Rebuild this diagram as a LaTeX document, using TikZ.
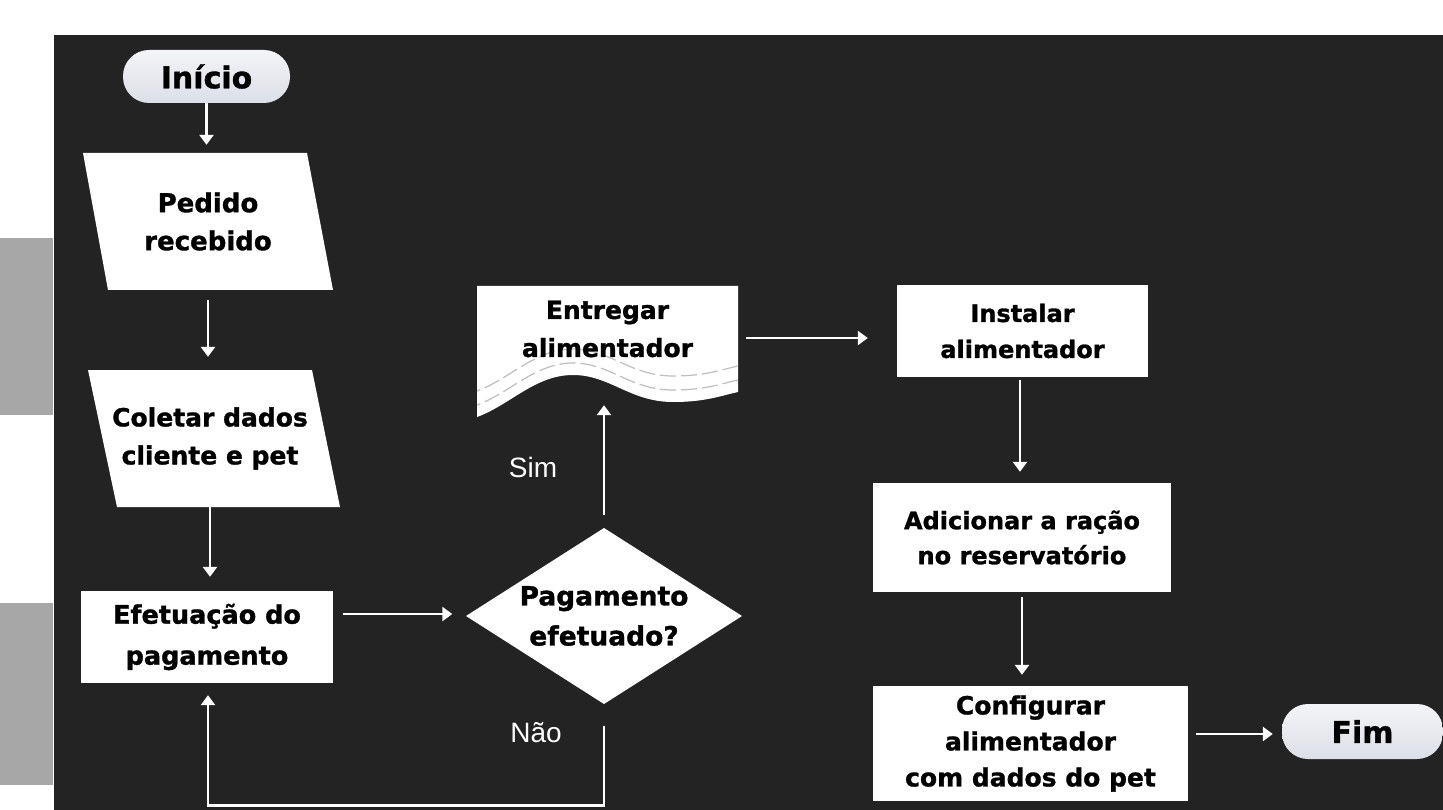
\documentclass[tikz,border=0pt]{standalone}
\usepackage{fontspec}
\setmainfont{DejaVu Sans}
\newfontfamily\heavyfont{DejaVu Sans Bold}[FakeBold=1.2]
\newfontfamily\lblfont{Liberation Sans}
\usetikzlibrary{arrows.meta,calc}
\definecolor{panel}{HTML}{232323}
\definecolor{stripgray}{HTML}{A7A7A7}
\definecolor{pilltop}{HTML}{F3F4F7}
\definecolor{pillbot}{HTML}{DCDFE6}
\definecolor{dashgray}{HTML}{BEBEBE}
\tikzset{
  txt/.style={inner sep=0pt, align=center, text=black, font=\heavyfont\fontsize{25}{38}\selectfont},
  boxnode/.style={txt, fill=white, draw=none},
  pill/.style={txt, rounded corners=26pt, top color=pilltop, bottom color=pillbot, draw=none, font=\heavyfont\fontsize{30}{36}\selectfont},
  arr/.style={draw=white, line width=2.8pt, -{Triangle[width=14pt,length=10pt]}},
  lbl/.style={inner sep=0pt, text=white, font=\lblfont\fontsize{28}{34}\selectfont}
}
\begin{document}
\begin{tikzpicture}[x=1pt,y=-1pt]
\fill[white] (0,0) rectangle (1443,810);
\useasboundingbox (0,0) rectangle (1443,810);
\fill[stripgray] (0,238) rectangle (53,415);
\fill[stripgray] (0,603) rectangle (53,785);
\fill[panel] (54,35) rectangle (1443,810);

% shapes drawn directly
\fill[white] (83,153) -- (307,153) -- (333,290) -- (108,290) -- cycle;
\fill[white] (88,370) -- (312,370) -- (340,507) -- (117,507) -- cycle;
\fill[white] (604,528) -- (742,616) -- (604,704) -- (466,616) -- cycle;
\fill[white] (477,286) -- (738,286) -- (738,392)
   .. controls (720,396) and (705,402) .. (673,402)
   .. controls (630,402) and (610,375) .. (573,375)
   .. controls (535,375) and (510,405) .. (477,417) -- cycle;
\begin{scope}
  \clip (477,286) rectangle (738,417);
  \foreach \dy in {-12,-26}{
    \draw[dashgray, line width=1.2pt, dash pattern=on 16pt off 5pt, yshift=\dy*-1pt]
      (738,392) .. controls (720,396) and (705,402) .. (673,402)
      .. controls (630,402) and (610,375) .. (573,375)
      .. controls (535,375) and (510,405) .. (477,417);
  }
\end{scope}

% nodes
\node[pill, minimum width=167pt, minimum height=53pt] (inicio) at (206.5,76.5) {Início};
\node[txt, font=\heavyfont\fontsize{26}{38}\selectfont, minimum width=225pt, minimum height=137pt] (pedido) at (208,221.5) {Pedido\\recebido};
\node[txt, minimum width=224pt, minimum height=137pt] (coletar) at (210,438.5) {Coletar dados\\cliente e pet};
\node[boxnode, minimum width=252pt, minimum height=92pt, font=\heavyfont\fontsize{25.5}{41}\selectfont] (efet) at (207,637) {Efetuação do\\pagamento};
\node[txt, minimum width=277pt, minimum height=176pt, font=\heavyfont\fontsize{26.5}{40}\selectfont] (pag) at (604,616) {Pagamento\\efetuado?};
\node[txt, minimum width=261pt, minimum height=86pt] (entregar) at (607.5,329) {Entregar\\alimentador};
\node[boxnode, minimum width=251pt, minimum height=92pt, font=\heavyfont\fontsize{24}{36}\selectfont] (instalar) at (1022.5,331) {Instalar\\alimentador};
\node[boxnode, minimum width=298pt, minimum height=109pt, font=\heavyfont\fontsize{24}{35}\selectfont] (adic) at (1022,537.5) {Adicionar a ração\\no reservatório};
\node[boxnode, minimum width=315pt, minimum height=115pt, font=\heavyfont\fontsize{25}{36}\selectfont] (conf) at (1030.5,743.5) {Configurar\\alimentador\\com dados do pet};
\node[pill, minimum width=161pt, minimum height=55pt] (fim) at (1362.5,731.5) {Fim};

\node[lbl] (sim) at (533,467) {Sim};
\node[lbl] (nao) at (536,733) {Não};

% connectors
\draw[arr] (inicio.south) -- ($(inicio.south |- pedido.north)+(0,-8)$);
\draw[arr] ($(pedido.south)+(0,10)$) -- ($(pedido.south |- coletar.north)+(0,-13)$);
\draw[arr] (coletar.south) -- ($(coletar.south |- efet.north)+(0,-14)$);
\draw[arr] ($(efet.east)+(10,-23)$) -- ($(pag.west |- efet.east)+(-13,-23)$);
\draw[arr] ($(pag.north)+(0,-13)$) -- ($(pag.north |- entregar.south)+(0,33)$);
\draw[arr] ($(pag.south)+(0,21.5)$) -- ($(pag.south)+(0,101.5)$) -| ($(efet.south)+(1,12)$);
\draw[arr] ($(entregar.east)+(8,9)$) -- ($(instalar.west |- entregar.east)+(-29,9)$);
\draw[arr] ($(instalar.south)+(-2.5,3)$) -- ($(instalar.south |- adic.north)+(-2.5,-11)$);
\draw[arr] ($(adic.south)+(0,5)$) -- ($(adic.south |- conf.north)+(0,-11)$);
\draw[arr] ($(conf.east)+(8,-9.5)$) -- ($(fim.west |- conf.east)+(-9,-9.5)$);
\end{tikzpicture}
\end{document}
